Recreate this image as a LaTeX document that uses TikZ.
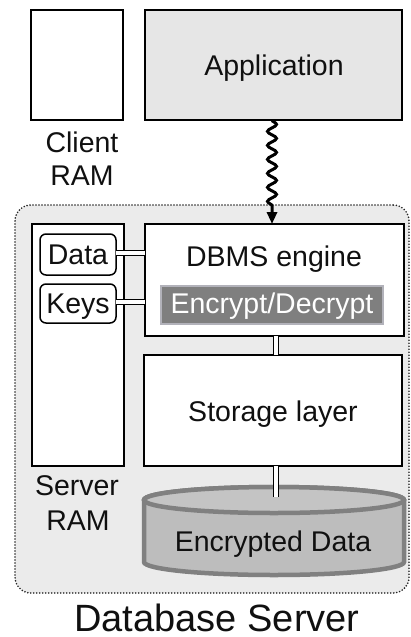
\documentclass[tikz,border=0pt]{standalone}
\usepackage{fontspec}
\setmainfont{Liberation Sans}
\usetikzlibrary{arrows.meta,decorations.pathmorphing}

\definecolor{appgray}{HTML}{E6E6E6}
\definecolor{srvgray}{HTML}{EBEBEB}
\definecolor{encgray}{HTML}{7F7F7F}
\definecolor{encrim}{HTML}{B2B2BA}
\definecolor{cylline}{HTML}{808080}
\definecolor{cylbody}{HTML}{BDBDBD}
\definecolor{cyltopc}{HTML}{C4C4C4}
\definecolor{inkc}{HTML}{101010}

\tikzset{
  unitbox/.style={draw=black, line width=2pt, inner sep=0pt, outer sep=0pt},
  membox/.style={draw=black, line width=1.5pt, fill=white, rounded corners=6pt, inner sep=0pt, outer sep=0pt},
  txt/.style={font=\fontsize{28.5}{33}\selectfont, text=inkc, inner sep=0pt, anchor=base},
  dconn/.style={draw=black, line width=1pt, double=white, double distance=4pt},
  wavy/.style={line width=3pt, decorate,
    decoration={snake, segment length=14pt, amplitude=4.5pt, post length=15pt},
    -{Triangle[width=10pt,length=12pt]}},
  container/.style={draw=black!85, fill=srvgray, line width=1.8pt, line cap=round,
    dash pattern=on 0pt off 3pt, rounded corners=16pt, inner sep=0pt}
}

\begin{document}
\begin{tikzpicture}[x=1pt,y=-1pt]
\useasboundingbox (0,0) rectangle (411,637);

% server enclosure
\node[container, minimum width=394pt, minimum height=388pt] (server) at (212,399) {};

% client side
\node[unitbox, fill=white, minimum width=92pt, minimum height=110pt] (clientram) at (77,65) {};
\node[unitbox, fill=appgray, minimum width=257pt, minimum height=110pt] (app) at (273.5,65) {};
\node[txt] (apptxt) at (274,75) {Application};
\node[txt] (clienttxt1) at (82,152) {Client};
\node[txt] (clienttxt2) at (82,185) {RAM};

% server side boxes
\node[unitbox, fill=white, minimum width=92pt, minimum height=242pt] (serverram) at (77.5,345) {};
\node[unitbox, fill=white, minimum width=259pt, minimum height=112pt] (dbms) at (274.5,280) {};
\node[unitbox, fill=white, minimum width=258pt, minimum height=111pt] (storage) at (273,410.5) {};

\node[membox, minimum width=76pt, minimum height=41pt] (data) at (78,254.5) {};
\node[membox, minimum width=76pt, minimum height=39pt] (keys) at (78,303.5) {};
\node[txt] (datatxt) at (78,264) {Data};
\node[txt] (keystxt) at (78,313) {Keys};

\node[txt] (dbmstxt) at (274,266) {DBMS engine};
\node[draw=encrim, fill=encgray, line width=2pt, inner sep=0pt,
      minimum width=222pt, minimum height=38pt] (enc) at (272,305) {};
\node[txt, text=white] (enctxt) at (272,313) {Encrypt/Decrypt};

\node[txt] (storagetxt) at (273,421) {Storage layer};
\node[txt] (srvtxt1) at (77,495) {Server};
\node[txt] (srvtxt2) at (78,530) {RAM};

% encrypted data store
\begin{scope}[draw=cylline, line width=4.5pt]
  \path[fill=cylbody, draw=cylline] (144,500) -- (144,562)
     arc[start angle=180, end angle=360, x radius=130pt, y radius=13pt]
     -- (404,500) arc[start angle=0, end angle=180, x radius=130pt, y radius=13pt] -- cycle;
  \path[fill=cyltopc, draw=cylline] (274,500) ellipse[x radius=130pt, y radius=13pt];
\end{scope}
\coordinate (cyltop) at (276,497);
\node[txt] (cyltxt) at (273,551) {Encrypted Data};

% connectors
\draw[wavy] ([xshift=-1.5pt]app.south) -- ([xshift=-1.5pt]app.south |- dbms.north);
\draw[dconn] ([yshift=2pt]data.east) -- ([yshift=2pt]data.east -| dbms.west);
\draw[dconn] ([yshift=2pt]keys.east) -- ([yshift=2pt]keys.east -| dbms.west);
\draw[dconn] ([xshift=1.5pt]dbms.south) -- ([xshift=1.5pt]dbms.south |- storage.north);
\draw[dconn] (storage.south -| cyltop) -- (cyltop);

% caption
\node[txt, font=\fontsize{38}{44}\selectfont] (caption) at (217,631) {Database Server};
\end{tikzpicture}
\end{document}
